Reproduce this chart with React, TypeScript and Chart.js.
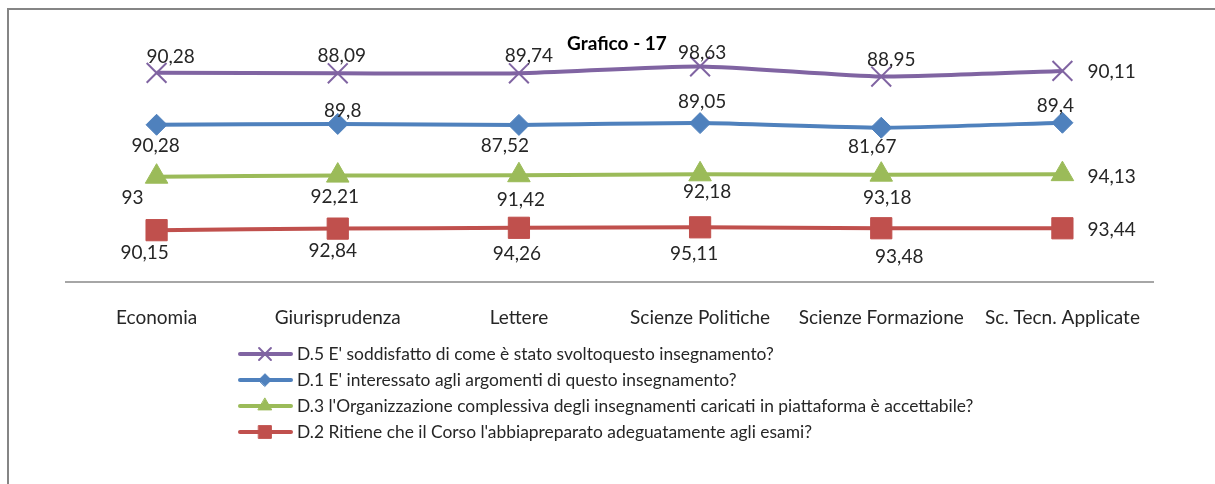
import React, { useEffect, useRef } from 'react';
import { Chart, registerables } from 'chart.js';
import { drawPoint } from 'chart.js/helpers';

Chart.register(...registerables);

// ---------- data ----------
const categories = [
  'Economia',
  'Giurisprudenza',
  'Lettere',
  'Scienze Politiche',
  'Scienze Formazione',
  'Sc. Tecn. Applicate',
];
const chartTitle = 'Grafico - 17';

const nameD5 = "D.5 E' soddisfatto di come è stato svoltoquesto insegnamento?";
const nameD1 = "D.1 E' interessato agli argomenti di questo insegnamento?";
const nameD3 = "D.3 l'Organizzazione complessiva degli insegnamenti caricati in piattaforma è accettabile?";
const nameD2 = "D.2 Ritiene che il Corso l'abbiapreparato adeguatamente agli esami?";

const valuesD2 = [90.15, 92.84, 94.26, 95.11, 93.48, 93.44];
const valuesD3 = [93, 92.21, 91.42, 92.18, 93.18, 94.13];
const valuesD1 = [90.28, 89.8, 87.52, 89.05, 81.67, 89.4];
const valuesD5 = [90.28, 88.09, 89.74, 98.63, 88.95, 90.11];

// ---------- styles ----------
const FONT = 'Lato, "Open Sans", sans-serif';
const TEXT = '#262626';

// label placement relative to point: [dx, dy, align]
const labelPlaceD5: [number, number, string][] = [[14, -16, 'c'], [4, -17, 'c'], [10, -17, 'c'], [2, -14, 'c'], [10, -17, 'c'], [25, 1, 'l']];
const labelPlaceD1: [number, number, string][] = [[-1, 21, 'c'], [5, -13, 'c'], [-14, 21, 'c'], [2, -21, 'c'], [-9, 19, 'c'], [-7, -17, 'c']];
const labelPlaceD3: [number, number, string][] = [[-24, 21, 'c'], [-3, 21, 'c'], [2, 25, 'c'], [7, 18, 'c'], [6, 23, 'c'], [25, 3, 'l']];
const labelPlaceD2: [number, number, string][] = [[-12, 23, 'c'], [-5, 22, 'c'], [-2, 26, 'c'], [-6, 27, 'c'], [18, 29, 'c'], [25, 2, 'l']];

const legendOrder = [3, 2, 1, 0]; // dataset indices, top to bottom

const fmt = (v: number) => String(v).replace('.', ',');

const labelsPlugin = {
  id: 'pointLabels',
  afterDatasetsDraw(chart: any) {
    const ctx = chart.ctx;
    ctx.save();
    ctx.font = `19px ${FONT}`;
    ctx.fillStyle = TEXT;
    ctx.textBaseline = 'middle';
    chart.data.datasets.forEach((ds: any, i: number) => {
      const meta = chart.getDatasetMeta(i);
      meta.data.forEach((pt: any, j: number) => {
        const [dx, dy, al] = ds.labelPlace[j];
        ctx.textAlign = al === 'l' ? 'left' : 'center';
        ctx.fillText(fmt(ds.data[j]), pt.x + dx, pt.y + dy);
      });
    });
    ctx.restore();
  },
};

const titlePlugin = {
  id: 'fixedTitle',
  afterDraw(chart: any) {
    const ctx = chart.ctx;
    ctx.save();
    ctx.font = `bold 19px ${FONT}`;
    ctx.fillStyle = '#000';
    ctx.textAlign = 'center';
    ctx.textBaseline = 'middle';
    ctx.fillText(chartTitle, 617, 44);
    ctx.restore();
  },
};

const legendPlugin = {
  id: 'customLegend',
  afterDraw(chart: any) {
    const ctx = chart.ctx;
    ctx.save();
    ctx.font = `17.4px ${FONT}`;
    ctx.textBaseline = 'middle';
    ctx.textAlign = 'left';
    legendOrder.forEach((di, row) => {
      const ds = chart.data.datasets[di];
      const y = 354 + row * 26;
      ctx.strokeStyle = ds.borderColor;
      ctx.lineWidth = 4;
      ctx.lineCap = 'round';
      ctx.beginPath();
      ctx.moveTo(240, y);
      ctx.lineTo(291, y);
      ctx.stroke();
      ctx.fillStyle = ds.pointBackgroundColor;
      ctx.strokeStyle = ds.pointBorderColor;
      ctx.lineWidth = ds.pointBorderWidth;
      drawPoint(ctx, { pointStyle: ds.pointStyle, radius: ds.pointRadius * 0.6, rotation: 0, borderWidth: ds.pointBorderWidth }, 265, y);
      ctx.fillStyle = TEXT;
      ctx.fillText(ds.label, 297, y);
    });
    ctx.restore();
  },
};

export default function App() {
  const ref = useRef<HTMLCanvasElement | null>(null);

  useEffect(() => {
    if (!ref.current) return;
    const mk = (label: string, data: number[], color: string, style: string, radius: number, place: any, bw = 1) => ({
      label,
      data,
      borderColor: color,
      backgroundColor: color,
      pointBackgroundColor: color,
      pointBorderColor: color,
      pointBorderWidth: bw,
      pointStyle: style,
      pointRadius: radius,
      pointHoverRadius: radius,
      borderWidth: 4,
      tension: 0.2,
      fill: false,
      labelPlace: place,
    });
    const chart = new Chart(ref.current, {
      type: 'line',
      data: {
        labels: categories,
        datasets: [
          mk(nameD2, valuesD2, '#C0504D', 'rect', 15, labelPlaceD2),
          mk(nameD3, valuesD3, '#9BBB59', 'triangle', 13, labelPlaceD3),
          mk(nameD1, valuesD1, '#4F81BD', 'rectRot', 10.5, labelPlaceD1),
          mk(nameD5, valuesD5, '#8064A2', 'crossRot', 14, labelPlaceD5, 2),
        ] as any,
      },
      options: {
        responsive: false,
        animation: false,
        layout: { padding: { left: 66, right: 62, top: 52, bottom: 0 } },
        plugins: {
          legend: { display: false },
          title: { display: false },
          tooltip: { enabled: false },
        },
        scales: {
          x: {
            offset: true,
            grid: { display: false },
            border: { display: true, color: '#a6a6a6', width: 2 },
            ticks: {
              padding: 16,
              color: TEXT,
              font: { family: FONT, size: 19 },
              maxRotation: 0,
              autoSkip: false,
            },
            afterFit(scale: any) {
              scale.height = 202;
            },
          },
          y: {
            display: false,
            stacked: true,
            min: 0,
            max: 400,
          },
        },
      },
      plugins: [labelsPlugin, titlePlugin, legendPlugin],
    });
    return () => chart.destroy();
  }, []);

  return (
    <div style={{ position: 'fixed', left: 0, top: 0, width: 1215, height: 484, background: '#fff', overflow: 'hidden' }}>
      <div
        style={{
          position: 'absolute',
          left: 7,
          top: 8,
          width: 1400,
          height: 800,
          borderTop: '2.5px solid #858585',
          borderLeft: '2.5px solid #858585',
          boxSizing: 'border-box',
        }}
      />
      <canvas ref={ref} width={1215} height={484} style={{ position: 'absolute', left: 0, top: 0 }} />
    </div>
  );
}
